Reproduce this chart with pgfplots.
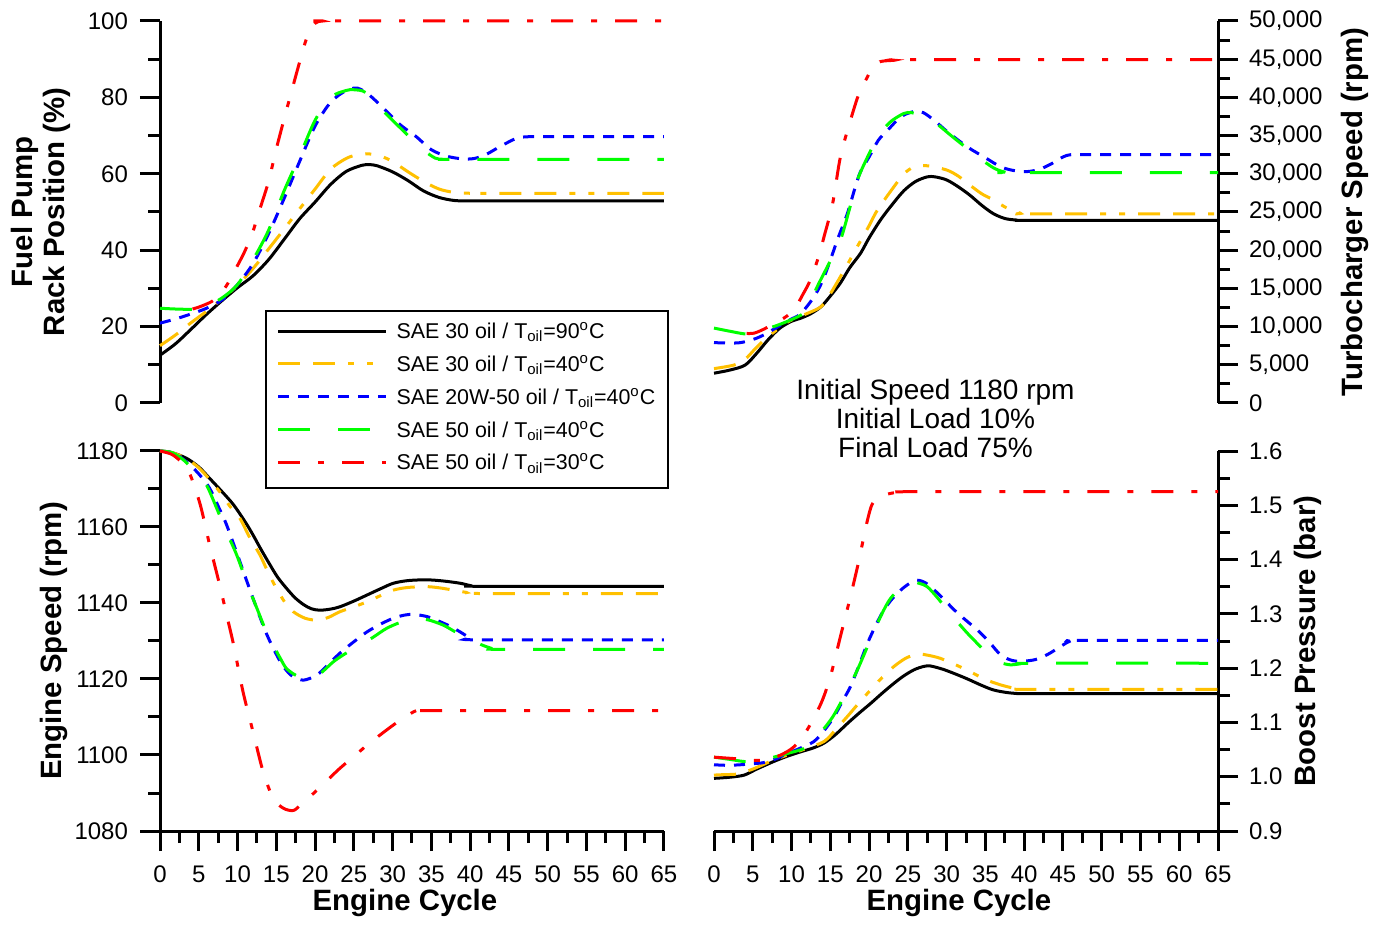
\documentclass[border=0pt]{standalone}
\usepackage{pgfplots}
\pgfplotsset{compat=1.18}
\usepackage{fontspec}
\setmainfont{Liberation Sans}

\definecolor{oilyellow}{RGB}{255,192,0}
\definecolor{oilblue}{RGB}{0,0,255}
\definecolor{oilgreen}{RGB}{0,255,0}
\definecolor{oilred}{RGB}{255,0,0}

\tikzset{
  sThirtyHot/.style={black, line width=1.5pt, solid},
  sThirtyCold/.style={oilyellow, line width=1.5pt, dash pattern=on 11pt off 6.5pt on 11pt off 6.5pt on 3pt off 6.5pt on 3pt off 6.5pt},
  sTwentyW/.style={oilblue, line width=1.5pt, dash pattern=on 5.5pt off 4.5pt},
  sFiftyForty/.style={oilgreen, line width=1.5pt, dash pattern=on 16pt off 14pt},
  sFiftyThirty/.style={oilred, line width=1.5pt, dash pattern=on 11pt off 9pt on 3pt off 9pt},
  axlabel/.style={font=\bfseries\fontsize{14.7}{16}\selectfont},
}

\pgfplotsset{
  panel/.style={
    scale only axis, width=252pt, xmin=0, xmax=65, clip=false,
    tick label style={font=\fontsize{12}{14}\selectfont},
    xticklabel style={yshift=-4pt},
    /pgf/number format/assume math mode=true,
    xtick={0,5,...,65}, minor x tick num=1,
    every axis plot/.append style={smooth},
  },
  % applied after the axis-line keys so that nothing overrides it
  panelaxis/.style={
    axis line style={line width=1.5pt, black, -},
    tick style={line width=1.5pt, black},
    major tick length=10pt, minor tick length=6pt, tick align=outside,
  },
  leftlabels/.style={yticklabel style={xshift=-2.5pt}},
  rightlabels/.style={yticklabel style={xshift=2pt}},
}

\begin{document}
\begin{tikzpicture}
\useasboundingbox (0,0) rectangle (695pt,462.5pt);

% ---------------- Fuel pump rack position ----------------
\begin{axis}[panel, at={(80pt,261pt)}, anchor=south west, height=191pt,
  axis x line=none, axis y line=left, panelaxis, leftlabels,
  ymin=0, ymax=100, ytick={0,20,...,100}, minor y tick num=1,
  ylabel={Fuel Pump\\Rack Position (\%)},
  every axis y label/.style={at={(axis description cs:-0.236,0.5)}, rotate=90, anchor=center, align=center, axlabel},
  legend cell align=left,
  legend image code/.code={\draw[#1] (0pt,1.5pt) -- (54pt,1.5pt);},
  legend style={at={(0.2083,0.2435)}, anchor=north west, draw=black, line width=1pt,
    font=\fontsize{10.7}{12}\selectfont, inner xsep=5.3pt, inner ysep=4pt, row sep=1.35pt,
    nodes={inner xsep=0pt, inner ysep=0pt, text height=9.85pt, text depth=5.2pt},
    /tikz/every odd column/.append style={column sep=4.5pt}},
]
\addplot[sThirtyHot] coordinates {(0,12.5)(2,15.5)(4,19.3)(6,23.2)(8,26.8)(10,30.2)(12,33.3)(14,37.5)(16,42.8)(18,48.2)(20,52.6)(22,57.2)(24,60.6)(26,62.2)(27,62.4)(28,62.1)(30,60.5)(32,58.2)(34,55.5)(36,53.8)(38,53.0)(40,52.9)(42,52.9)(65,52.9)};
\addlegendentry{SAE 30 oil / T\textsubscript{oil}=90\textsuperscript{o}C}
\addplot[sThirtyCold] coordinates {(0,15)(2,17.8)(4,21)(6,24)(8,27.2)(10,30.8)(12,35.2)(14,40.3)(16,45.5)(18,50.8)(20,56)(22,61.2)(24,64)(25.5,65)(27,65.2)(28.5,64.6)(30,63.2)(32,60.5)(34,58)(36,56)(38,55.1)(40,54.9)(42,54.9)(65,54.9)};
\addlegendentry{SAE 30 oil / T\textsubscript{oil}=40\textsuperscript{o}C}
\addplot[sTwentyW] coordinates {(0,20.9)(2,22)(4,23.3)(6,24.8)(8,27)(10,31)(12,36.5)(14,44.3)(16,53.5)(18,63.2)(20,72.5)(22,78.7)(24,81.8)(25.5,82.4)(27,80.6)(29,76.8)(31,72.8)(33,69.8)(35,66.3)(37,64.6)(39,63.9)(40.5,64)(42,65)(44,67.3)(46,69.3)(47.5,69.7)(50,69.7)(65,69.7)};
\addlegendentry{SAE 20W-50 oil / T\textsubscript{oil}=40\textsuperscript{o}C\hspace*{1pt}}
\addplot[sFiftyForty] coordinates {(0,24.8)(2,24.6)(4,24.5)(5,24.6)(6,25.3)(8,27.5)(10,31)(12,37.5)(14,45.2)(16,55.5)(18,64.6)(20,74)(22,80)(24,81.8)(25,82)(26.5,81.3)(28.5,77)(30,74)(32,70)(34,66.2)(35.5,64.1)(36.5,63.8)(38,63.8)(65,63.8)};
\addlegendentry{SAE 50 oil / T\textsubscript{oil}=40\textsuperscript{o}C}
\addplot[sFiftyThirty] coordinates {(4.2,24.6)(5.4,25.4)(7,27)(8.5,30.5)(10,36)(11,40)(12,45)(13,51.5)(14,58)(15,66.5)(16,74.3)(17,81.8)(18,89.2)(19,96)(20,99.4)(21,100)(23,100)(65,100)};
\addlegendentry{SAE 50 oil / T\textsubscript{oil}=30\textsuperscript{o}C}
\end{axis}

% ---------------- Turbocharger speed ----------------
\begin{axis}[panel, at={(357pt,261pt)}, anchor=south west, height=191pt,
  axis x line=none, axis y line=right, panelaxis, rightlabels,
  ymin=0, ymax=50000, ytick={0,5000,...,50000}, minor y tick num=1,
  scaled y ticks=false,
  yticklabel style={/pgf/number format/1000 sep={,}},
  ylabel={Turbocharger Speed (rpm)},
  every axis y label/.style={at={(axis description cs:1.272,0.5)}, rotate=90, anchor=center, axlabel},
]
\addplot[sThirtyHot] coordinates {(0,3900)(2,4300)(4,4950)(5.5,6500)(7,8300)(8.5,9800)(10,10700)(11.2,11100)(12.5,11700)(13.8,12600)(15,14000)(16.3,15700)(17.5,17700)(18.9,19600)(20,21600)(21.5,24000)(23,26000)(24.5,27800)(26,29000)(27.5,29600)(28.5,29600)(30,29200)(31.5,28300)(33,27200)(34.5,25900)(36,24800)(37.5,24150)(39,23950)(41,23900)(65,23900)};
\addplot[sThirtyCold] coordinates {(0,4500)(2.6,4970)(4,5700)(5.5,7300)(7,8700)(9.5,10600)(11.5,11500)(13.8,12600)(15,14300)(16,16000)(17.3,18300)(18.5,20500)(20,23200)(21.1,25300)(23.2,28300)(24.5,30000)(25.8,30900)(27.5,31050)(30,30500)(31.5,29700)(32.7,28750)(34.5,27400)(36,26600)(37.8,25500)(39.5,24850)(41,24750)(65,24750)};
\addplot[sTwentyW] coordinates {(0,7900)(2,7850)(3.4,7900)(5,8300)(6.4,8900)(8.6,10200)(10,11000)(11.2,11700)(12.9,13900)(14,16000)(15,18700)(16,21600)(17.2,24800)(18.2,28200)(18.9,30300)(20,32200)(21.2,34400)(22.4,35700)(23.5,36900)(24.5,37700)(26,38200)(27,38000)(28.4,37000)(30.1,35500)(32.7,33500)(35,32100)(37,30900)(38.8,30400)(40.5,30300)(42,30600)(43.5,31300)(45,32200)(46,32500)(48,32500)(65,32500)};
\addplot[sFiftyForty] coordinates {(0,9800)(2,9400)(3.9,9050)(5,9100)(6,9500)(7.7,10000)(9.5,10700)(11.2,11500)(12,12300)(13.3,15200)(14.8,18200)(16.3,21300)(17.5,25500)(18.5,29200)(19.8,32200)(21,34600)(21.9,35900)(23,37000)(24.5,37900)(25.5,38000)(27,37500)(28.4,36800)(31,34650)(34,32250)(36,30800)(37.4,30250)(38.5,30150)(65,30150)};
\addplot[sFiftyThirty] coordinates {(4.2,9100)(5.2,9150)(6.5,9700)(7.7,10400)(9,11100)(9.9,11800)(10.7,12800)(11.4,14100)(12.2,15600)(12.9,17400)(13.6,19500)(14.2,21800)(15.3,26100)(16.3,32200)(17.6,37000)(18.7,40500)(19.8,42700)(20.6,44200)(21.5,44700)(23.2,44850)(26,44950)(65,44950)};
\end{axis}

% ---------------- Engine speed ----------------
\begin{axis}[panel, at={(80pt,47pt)}, anchor=south west, height=190pt,
  axis x line=bottom, axis y line=left, panelaxis, leftlabels,
  ymin=1080, ymax=1180, ytick={1080,1100,...,1180}, minor y tick num=1,
  yticklabel style={/pgf/number format/1000 sep={}},
  xlabel={Engine Cycle}, ylabel={Engine Speed (rpm)},
  every axis x label/.style={at={(axis description cs:0.486,-0.189)}, anchor=center, axlabel},
  every axis y label/.style={at={(axis description cs:-0.210,0.5)}, rotate=90, anchor=center, axlabel},
]
\addplot[sThirtyHot] coordinates {(0,1180)(1.5,1179.6)(3.4,1178.1)(5,1175.8)(6.4,1172.8)(8,1169.3)(9.5,1165.8)(11,1161.3)(12,1157.9)(13,1154.2)(14.2,1150)(15.2,1146.7)(16.3,1143.9)(17.4,1141.4)(18.5,1139.6)(19.5,1138.5)(20.6,1138.1)(22,1138.4)(23.2,1139)(25,1140.5)(26.7,1142.1)(28.5,1143.8)(30.1,1145.2)(32,1145.9)(34.4,1146.1)(36.5,1145.8)(38.7,1145.2)(40,1144.6)(41,1144.4)(65,1144.4)};
\addplot[sThirtyCold] coordinates {(0,1180)(1.5,1179.6)(3.4,1178)(5,1175.6)(6.4,1172.5)(8,1168.5)(9,1165.5)(10.3,1162.3)(11.5,1157.5)(12.9,1152.6)(14,1147.8)(15,1143.9)(16.1,1140.2)(17.2,1137.7)(18.7,1136)(20.2,1135.5)(21.7,1136.2)(23.2,1137.7)(25,1139)(26.7,1140.3)(28.5,1142)(30.1,1143.4)(32,1144.1)(34.4,1144.3)(36,1144)(37.8,1143.4)(39.5,1142.8)(41,1142.5)(65,1142.5)};
\addplot[sTwentyW] coordinates {(0,1180)(1.5,1179.6)(2.5,1178.6)(3.9,1176.3)(5.2,1173.5)(6.4,1170.2)(7.5,1165.5)(8.6,1160.5)(10.3,1150.9)(12,1141.2)(13.8,1131.6)(15.5,1124.6)(16.5,1121.8)(17.2,1120.6)(18.5,1119.7)(20.2,1121)(21.7,1123.8)(23.2,1126.8)(25,1129.8)(26.7,1132.4)(28.5,1134.5)(30.1,1136)(31.5,1136.8)(32.7,1137)(34.5,1136.4)(36.1,1135.1)(37.5,1133.8)(38.7,1132.4)(40,1130.8)(41,1130.3)(65,1130.3)};
\addplot[sFiftyForty] coordinates {(0,1180)(1.5,1179.6)(3,1177.7)(4.5,1174.6)(6,1171)(7.5,1164)(8.6,1158.6)(9.9,1152.6)(11.2,1145.3)(12.5,1138.6)(13.6,1133)(14.6,1128.9)(15.5,1125.5)(16.3,1122.8)(17.5,1121)(18.7,1120.2)(19.8,1120.2)(21,1122)(22.4,1124.6)(24,1126.8)(25.8,1128.9)(27.5,1131)(29.2,1133.3)(31,1134.9)(32.7,1135.8)(34.5,1135.6)(36.5,1134.2)(38,1132.5)(39.2,1131.2)(41,1129.4)(42.7,1128.1)(44,1127.8)(65,1127.8)};
\addplot[sFiftyThirty] coordinates {(0,1180)(1,1179.5)(1.7,1178.9)(2.8,1177)(3.9,1173.7)(5.2,1165.8)(6.4,1155.3)(7.7,1144.7)(8.6,1136.8)(9.5,1128.9)(10.7,1116.7)(12,1106.1)(13.3,1095.6)(14.6,1088.6)(15.9,1086)(17.2,1085.4)(18.2,1087)(19.8,1089.9)(21.5,1093.2)(23.2,1096.5)(25,1099.6)(26.7,1102.6)(28.4,1105.3)(30.1,1107.9)(31.6,1110)(33.1,1111.7)(34.5,1111.7)(65,1111.7)};
\end{axis}

% ---------------- Boost pressure ----------------
\begin{axis}[panel, at={(357pt,47pt)}, anchor=south west, height=190pt,
  axis x line=bottom, axis y line=right, panelaxis, rightlabels,
  ymin=0.9, ymax=1.6, ytick={0.9,1,1.1,1.2,1.3,1.4,1.5,1.6}, minor y tick num=1,
  yticklabel style={/pgf/number format/.cd, fixed, fixed zerofill, precision=1},
  xlabel={Engine Cycle}, ylabel={Boost Pressure (bar)},
  every axis x label/.style={at={(axis description cs:0.486,-0.189)}, anchor=center, axlabel},
  every axis y label/.style={at={(axis description cs:1.179,0.5)}, rotate=90, anchor=center, axlabel},
]
\addplot[sThirtyHot] coordinates {(0,0.997)(2,0.999)(3.9,1.003)(5.5,1.014)(7.7,1.028)(9.5,1.038)(11.2,1.046)(12.8,1.053)(14.2,1.062)(15.7,1.078)(17.2,1.098)(18.7,1.117)(20.2,1.135)(21.7,1.154)(23.2,1.172)(24.5,1.186)(25.8,1.197)(27,1.203)(27.9,1.204)(29.5,1.198)(31,1.19)(32.7,1.18)(34.4,1.169)(36,1.16)(37.8,1.155)(39.5,1.153)(41,1.153)(65,1.153)};
\addplot[sThirtyCold] coordinates {(0,1.003)(1.5,1.004)(3,1.005)(5,1.014)(7.7,1.031)(9.5,1.04)(11.5,1.05)(14.2,1.065)(15.7,1.087)(17.2,1.111)(18.7,1.136)(20.2,1.16)(21.7,1.183)(23.2,1.203)(24.7,1.218)(26.2,1.226)(27.5,1.224)(29.2,1.218)(31.5,1.204)(33.5,1.19)(35.2,1.178)(37,1.169)(38.7,1.163)(40,1.161)(65,1.161)};
\addplot[sTwentyW] coordinates {(0,1.022)(1.7,1.021)(3.4,1.022)(5,1.024)(6.4,1.026)(8,1.033)(9.5,1.043)(11.2,1.053)(12.9,1.065)(14.2,1.085)(15.5,1.111)(16.6,1.14)(17.6,1.166)(18.7,1.205)(19.8,1.246)(20.9,1.28)(21.9,1.307)(23,1.328)(24.1,1.344)(25.2,1.356)(26.2,1.362)(27.3,1.357)(28.4,1.344)(29.7,1.326)(31,1.307)(32.5,1.288)(34,1.27)(35.5,1.248)(37,1.224)(38.5,1.214)(40,1.213)(41.5,1.216)(43,1.225)(44.5,1.238)(45.8,1.249)(47,1.251)(65,1.251)};
\addplot[sFiftyForty] coordinates {(0,1.036)(2,1.032)(3.9,1.028)(5.5,1.029)(7.7,1.036)(9.5,1.043)(11.6,1.052)(12.9,1.068)(14.2,1.089)(15.3,1.11)(16.3,1.135)(17.4,1.165)(18.5,1.197)(19.8,1.24)(21.1,1.283)(22,1.31)(22.8,1.329)(24,1.347)(25.4,1.359)(26.5,1.356)(27.5,1.35)(28.8,1.33)(30.1,1.307)(31.4,1.285)(32.7,1.264)(34.2,1.242)(35.7,1.221)(37,1.21)(38.3,1.206)(39.5,1.208)(41,1.209)(65,1.209)};
\addplot[sFiftyThirty] coordinates {(0,1.036)(2,1.034)(3.9,1.032)(5.6,1.03)(7.2,1.033)(8.6,1.04)(10.3,1.055)(12,1.086)(13.8,1.135)(15,1.184)(16.3,1.258)(17.6,1.332)(18.7,1.399)(19.6,1.461)(20.4,1.502)(21.5,1.516)(22.8,1.522)(24.1,1.524)(26,1.525)(65,1.525)};
\end{axis}

\node[align=center, font=\fontsize{14}{14.5}\selectfont] at (467.75pt,253pt)
  {Initial Speed 1180 rpm\\Initial Load 10\%\\Final Load 75\%};
\end{tikzpicture}
\end{document}
